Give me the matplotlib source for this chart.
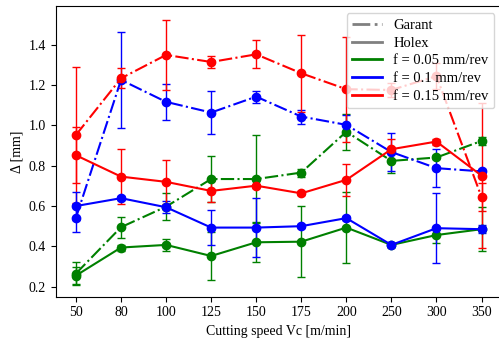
import matplotlib
matplotlib.use("Agg")
import matplotlib.pyplot as plt
from matplotlib.lines import Line2D

plt.rcParams['font.family'] = ['Liberation Serif', 'DejaVu Serif']
plt.rcParams['font.size'] = 10

speeds = ['50', '80', '100', '125', '150', '175', '200', '250', '300', '350']

# Garant (dash-dot)
garant_005 = [0.265, 0.495, 0.597, 0.734, 0.734, 0.766, 0.969, 0.824, 0.841, 0.923]
garant_005_err = [0.055, 0.053, 0.068, 0.115, 0.22, 0.02, 0.09, 0.06, 0.01, 0.02]
garant_01 = [0.542, 1.226, 1.117, 1.064, 1.143, 1.044, 1.003, 0.868, 0.788, 0.772]
garant_01_err = [0.07, 0.24, 0.088, 0.105, 0.03, 0.035, 0.05, 0.095, 0.094, 0.01]
garant_015 = [0.953, 1.234, 1.35, 1.315, 1.353, 1.259, 1.18, 1.176, 1.245, 0.645]
garant_015_err = [0.336, 0.05, 0.174, 0.028, 0.07, 0.19, 0.26, 0.033, 0.066, 0.07]

# Holex (solid)
holex_005 = [0.255, 0.394, 0.407, 0.352, 0.42, 0.423, 0.493, 0.407, 0.456, 0.485]
holex_005_err = [0.04, 0.015, 0.03, 0.12, 0.10, 0.175, 0.175, 0.01, 0.04, 0.11]
holex_01 = [0.6, 0.639, 0.594, 0.493, 0.493, 0.5, 0.54, 0.407, 0.49, 0.485]
holex_01_err = [0.07, 0.01, 0.03, 0.088, 0.145, 0.01, 0.01, 0.01, 0.175, 0.02]
holex_015 = [0.852, 0.746, 0.72, 0.675, 0.701, 0.663, 0.73, 0.882, 0.92, 0.751]
holex_015_err = [0.14, 0.137, 0.11, 0.053, 0.01, 0.01, 0.078, 0.05, 0.015, 0.36]

x = list(range(len(speeds)))

fig = plt.figure(figsize=(4.99, 3.42), dpi=100)
ax = fig.add_axes([0.1116, 0.1325, 0.894, 0.85])

series = [
    (garant_005, garant_005_err, 'green', '-.'),
    (garant_01, garant_01_err, 'blue', '-.'),
    (garant_015, garant_015_err, 'red', '-.'),
    (holex_005, holex_005_err, 'green', '-'),
    (holex_01, holex_01_err, 'blue', '-'),
    (holex_015, holex_015_err, 'red', '-'),
]
for vals, err, col, ls in series:
    ax.errorbar(x, vals, yerr=err, color=col, linestyle=ls, marker='o',
                markersize=6, linewidth=1.5, capsize=3, elinewidth=1)

ax.set_xticks(x)
ax.set_xticklabels(speeds)
ax.set_xlim(-0.45, 9.45)
ax.set_ylim(0.15, 1.593)
ax.set_xlabel('Cutting speed Vc [m/min]')
ax.set_ylabel('Δ [mm]')

handles = [
    Line2D([], [], color='grey', linestyle='-.', linewidth=2),
    Line2D([], [], color='grey', linestyle='-', linewidth=2),
    Line2D([], [], color='green', linewidth=2),
    Line2D([], [], color='blue', linewidth=2),
    Line2D([], [], color='red', linewidth=2),
]
labels = ['Garant', 'Holex', 'f = 0.05 mm/rev', 'f = 0.1 mm/rev', 'f = 0.15 mm/rev']
ax.legend(handles, labels, loc='upper right', bbox_to_anchor=(0.99, 0.985),
          fontsize=10.5, handlelength=2.0, labelspacing=0.3, borderaxespad=0.2)

fig.savefig('out.png', dpi=100)
